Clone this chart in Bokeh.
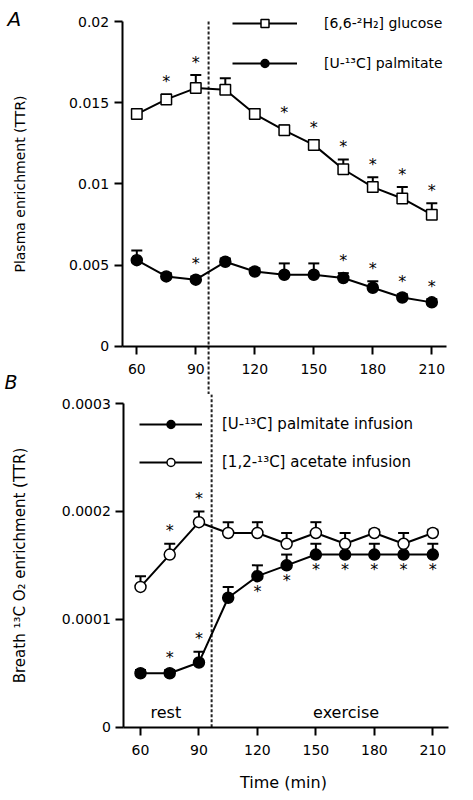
from bokeh.plotting import figure
from bokeh.models import Range1d, FixedTicker, Legend, LegendItem, Label
from bokeh.layouts import column
from bokeh.embed import file_html
from bokeh.resources import INLINE
from bokeh.core.properties import value

FONT = "DejaVu Sans"

# ---------------- data ----------------
time_min = [60, 75, 90, 105, 120, 135, 150, 165, 180, 195, 210]
x_ticks = [60, 90, 120, 150, 180, 210]
exercise_start = 96.5

# Panel A: plasma enrichment (TTR)
glucose_ttr = [0.0143, 0.0152, 0.0159, 0.0158, 0.0143, 0.0133, 0.0124, 0.0109, 0.0098, 0.0091, 0.0081]
glucose_sem = [0.0003, 0.0003, 0.0008, 0.0007, 0.0003, 0.0003, 0.0003, 0.0006, 0.0006, 0.0007, 0.0007]
glucose_sig = [0, 1, 1, 0, 0, 1, 1, 1, 1, 1, 1]

palm_plasma_ttr = [0.0053, 0.0043, 0.0041, 0.0052, 0.0046, 0.0044, 0.0044, 0.0042, 0.0036, 0.0030, 0.0027]
palm_plasma_sem = [0.0006, 0.0002, 0.0002, 0.0002, 0.0002, 0.0007, 0.0007, 0.0003, 0.0004, 0.0002, 0.0002]
palm_plasma_sig = [0, 0, 1, 0, 0, 0, 0, 1, 1, 1, 1]

a_y_ticks = [0, 0.005, 0.01, 0.015, 0.02]
a_y_labels = ["0", "0.005", "0.01", "0.015", "0.02"]

# Panel B: breath 13CO2 enrichment (TTR)
palm_breath_ttr = [0.00005, 0.00005, 0.00006, 0.00012, 0.00014, 0.00015, 0.00016, 0.00016, 0.00016, 0.00016, 0.00016]
palm_breath_sem = [0.000003, 0.000003, 0.00001, 0.00001, 0.00001, 0.00001, 0.00001, 0.00001, 0.00001, 0.00001, 0.00001]
palm_breath_sig_above = [0, 1, 1, 0, 0, 0, 0, 0, 0, 0, 0]
palm_breath_sig_below = [0, 0, 0, 0, 1, 1, 1, 1, 1, 1, 1]

acet_breath_ttr = [0.00013, 0.00016, 0.00019, 0.00018, 0.00018, 0.00017, 0.00018, 0.00017, 0.00018, 0.00017, 0.00018]
acet_breath_sem = [0.00001, 0.00001, 0.00001, 0.00001, 0.00001, 0.00001, 0.00001, 0.00001, 0.000003, 0.00001, 0.000003]
acet_breath_sig = [0, 1, 1, 0, 0, 0, 0, 0, 0, 0, 0]

b_y_ticks = [0, 0.0001, 0.0002, 0.0003]
b_y_labels = ["0", "0.0001", "0.0002", "0.0003"]

labels_a = ["[6,6-\u00b2H\u2082] glucose", "[U-\u00b9\u00b3C] palmitate"]
labels_b = ["[U-\u00b9\u00b3C] palmitate infusion", "[1,2-\u00b9\u00b3C] acetate infusion"]

# ---------------- layout helpers (page pixel geometry) ----------------
PAGE_LEFT, PAGE_RIGHT = 1, 466


def lin(pa_, va, pb_, vb):
    k = (vb - va) / (pb_ - pa_)
    return lambda p: va + (p - pa_) * k


def style(p, y_ticks, y_labels, ylabel, y_loc, x_bounds, y_bounds):
    p.xgrid.visible = False
    p.ygrid.visible = False
    p.outline_line_color = None
    p.background_fill_color = "white"
    p.border_fill_color = "white"
    for ax in (p.xaxis[0], p.yaxis[0]):
        ax.axis_line_width = 2
        ax.axis_line_color = "black"
        ax.major_tick_line_width = 2
        ax.major_tick_line_color = "black"
        ax.minor_tick_line_color = None
        ax.major_tick_in = 0
        ax.major_tick_out = 8
        ax.major_label_text_font = FONT
        ax.major_label_text_font_size = "14px"
        ax.major_label_text_color = "black"
        ax.axis_label_text_font = FONT
        ax.axis_label_text_font_style = "normal"
        ax.axis_label_text_color = "black"
    p.xaxis.ticker = FixedTicker(ticks=x_ticks)
    p.xaxis.major_label_standoff = 10
    p.xaxis.fixed_location = 0
    p.xaxis.bounds = x_bounds
    p.yaxis.ticker = FixedTicker(ticks=y_ticks)
    p.yaxis.major_label_overrides = {t: s for t, s in zip(y_ticks, y_labels)}
    p.yaxis.major_label_standoff = 5
    p.yaxis.fixed_location = y_loc
    p.yaxis.bounds = y_bounds
    p.yaxis.axis_label = ylabel


def add_series(p, y, sem, marker, fill, size):
    top = [a + b for a, b in zip(y, sem)]
    p.segment(x0=time_min, y0=y, x1=time_min, y1=top, line_color="black", line_width=2)
    p.scatter(x=time_min, y=top, marker="dash", size=11, line_color="black", line_width=2)
    ln = p.line(time_min, y, line_color="black", line_width=2)
    pts = p.scatter(time_min, y, marker=marker, size=size, fill_color=fill,
                    line_color="black", line_width=1.5)
    return ln, pts


def add_stars(p, y, sig, dy):
    xs = [t for t, s in zip(time_min, sig) if s]
    ys = [v for v, s in zip(y, sig) if s]
    p.text(x=xs, y=ys, text=["*"] * len(xs), y_offset=dy, text_align="center",
           text_baseline="middle", text_font=value(FONT), text_font_size="16px",
           text_color="#000000")


# ---------------- Panel A (figure also carries the "B" panel letter) ----------------
A_TOP, A_BOT = 1, 395
ax_map = lin(137.3, 60, 432.3, 210)
ay_map = lin(346.7, 0.0, 22.0, 0.02)
a_xlo, a_xhi = ax_map(122.7), ax_map(447.3)

pa = figure(frame_width=PAGE_RIGHT - PAGE_LEFT, frame_height=A_BOT - A_TOP,
            min_border_left=0, min_border_right=0, min_border_top=0, min_border_bottom=0,
            x_range=Range1d(ax_map(PAGE_LEFT), ax_map(PAGE_RIGHT)),
            y_range=Range1d(ay_map(A_BOT), ay_map(A_TOP)),
            output_backend="svg", toolbar_location=None)
style(pa, a_y_ticks, a_y_labels, "Plasma enrichment (TTR)", a_xlo, (a_xlo, a_xhi), (0, 0.02))
pa.yaxis.axis_label_text_font_size = "14px"
pa.yaxis.axis_label_standoff = 38

pa.segment(x0=[exercise_start], y0=[0.02], x1=[exercise_start], y1=[ay_map(A_BOT + 5)],
           line_dash="3 2", line_width=2, line_color="#222222")

g_top = [a + b for a, b in zip(glucose_ttr, glucose_sem)]
p_top = [a + b for a, b in zip(palm_plasma_ttr, palm_plasma_sem)]
gl, gp = add_series(pa, glucose_ttr, glucose_sem, "square", "white", 10.5)
pl, pp = add_series(pa, palm_plasma_ttr, palm_plasma_sem, "circle", "black", 11)
add_stars(pa, g_top, glucose_sig, -13)
add_stars(pa, p_top, palm_plasma_sig, -13)

leg_a = Legend(items=[LegendItem(label=labels_a[0], renderers=[gl, gp]),
                      LegendItem(label=labels_a[1], renderers=[pl, pp])],
               location=(233 - PAGE_LEFT, A_BOT - 72 - 2), padding=0, margin=0, spacing=20,
               glyph_width=65, glyph_height=20, label_standoff=27,
               label_text_font=FONT, label_text_font_size="14px", label_text_color="black",
               border_line_alpha=0, background_fill_alpha=0)
pa.add_layout(leg_a)

pa.add_layout(Label(x=8 - PAGE_LEFT, y=A_BOT - 19, x_units="screen", y_units="screen", text="A",
                    text_baseline="alphabetic",
                    text_font=FONT, text_font_style="italic", text_font_size="20px",
                    text_color="black"))
pa.add_layout(Label(x=5 - PAGE_LEFT, y=A_BOT - 382, x_units="screen", y_units="screen", text="B",
                    text_baseline="alphabetic",
                    text_font=FONT, text_font_style="italic", text_font_size="19px",
                    text_color="black"))

# ---------------- Panel B ----------------
B_TOP, B_BOT = 395, 793
bx_map = lin(141.0, 60, 433.3, 210)
by_map = lin(727.7, 0.0, 404.0, 0.0003)
b_xlo, b_xhi = bx_map(124.3), bx_map(449.0)

pb = figure(frame_width=PAGE_RIGHT - PAGE_LEFT, frame_height=B_BOT - B_TOP,
            min_border_left=0, min_border_right=0, min_border_top=0, min_border_bottom=0,
            x_range=Range1d(bx_map(PAGE_LEFT), bx_map(PAGE_RIGHT)),
            y_range=Range1d(by_map(B_BOT), by_map(B_TOP)),
            output_backend="svg", toolbar_location=None)
style(pb, b_y_ticks, b_y_labels, "Breath \u00b9\u00b3C O\u2082 enrichment (TTR)", b_xlo,
      (b_xlo, b_xhi), (0, 0.0003))
pb.yaxis.axis_label_text_font_size = "15px"
pb.yaxis.axis_label_standoff = 30
pb.xaxis.axis_label = "Time  (min)"
pb.xaxis.axis_label_text_font_size = "16px"
pb.xaxis.axis_label_standoff = 14

pb.segment(x0=[exercise_start], y0=[0], x1=[exercise_start], y1=[by_map(B_TOP - 5)],
           line_dash="3 2", line_width=2, line_color="#222222")

pb_top = [a + b for a, b in zip(palm_breath_ttr, palm_breath_sem)]
ab_top = [a + b for a, b in zip(acet_breath_ttr, acet_breath_sem)]
bl, bp = add_series(pb, palm_breath_ttr, palm_breath_sem, "circle", "black", 11)
al, ap = add_series(pb, acet_breath_ttr, acet_breath_sem, "circle", "white", 11)
add_stars(pb, pb_top, palm_breath_sig_above, -13)
add_stars(pb, palm_breath_ttr, palm_breath_sig_below, 15)
add_stars(pb, ab_top, acet_breath_sig, -13)

leg_b = Legend(items=[LegendItem(label=labels_b[0], renderers=[bl, bp]),
                      LegendItem(label=labels_b[1], renderers=[al, ap])],
               location=(140 - PAGE_LEFT, B_BOT - 471 - 2), padding=0, margin=0, spacing=18,
               glyph_width=63, glyph_height=20, label_standoff=20,
               label_text_font=FONT, label_text_font_size="15px", label_text_color="black",
               border_line_alpha=0, background_fill_alpha=0)
pb.add_layout(leg_b)

pb.add_layout(Label(x=73, y=0.0000139, text="rest", text_align="center", text_baseline="middle",
                    text_font=FONT, text_font_size="16px", text_color="black"))
pb.add_layout(Label(x=165.5, y=0.0000139, text="exercise", text_align="center",
                    text_baseline="middle", text_font=FONT, text_font_size="16px",
                    text_color="black"))

layout = column(pa, pb, spacing=0)
open("out.html", "w").write(file_html(layout, INLINE))
